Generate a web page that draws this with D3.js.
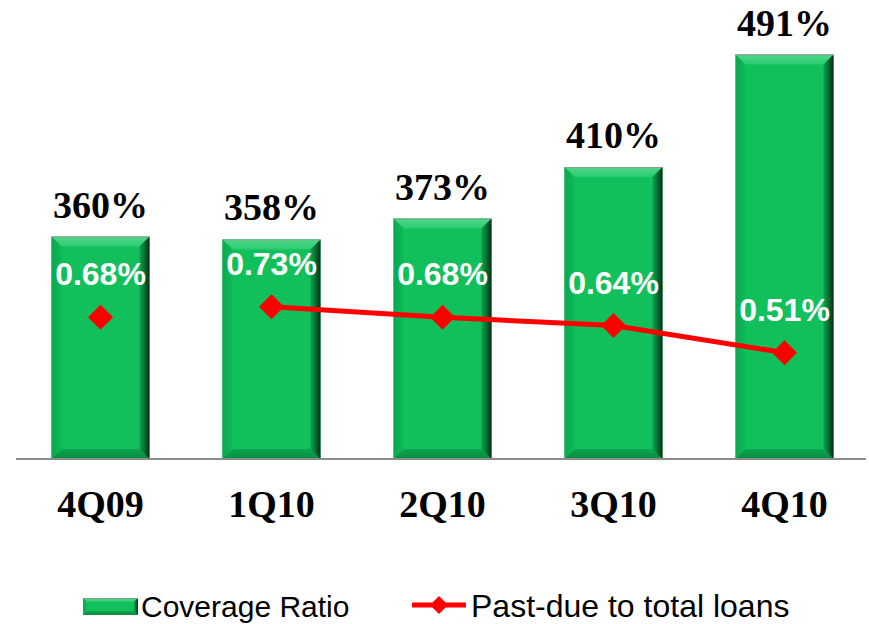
<!DOCTYPE html>
<html>
<head>
<meta charset="utf-8">
<script src="https://cdn.jsdelivr.net/npm/d3@7"></script>
<style>
  html, body { margin: 0; padding: 0; background: #ffffff; }
  svg { display: block; }
</style>
</head>
<body>
<svg id="chart" width="869" height="624"></svg>
<script>
// Quarterly coverage ratio (bars) and past-due ratio (line)
const quarters = ["4Q09", "1Q10", "2Q10", "3Q10", "4Q10"];
const coverageRatio = [360, 358, 373, 410, 491];          // %
const pastDueRatio = [0.68, 0.73, 0.68, 0.64, 0.51];      // %
const joinedToPrevious = [false, false, true, true, true]; // line segment from previous point
const coverageDomain = [200, 500];
const pastDueDomain = [0, 2.0];
const legendLabels = ["Coverage Ratio", "Past-due to total loans"];

const svg = d3.select("#chart");
const SANS = "'Liberation Sans', Arial, Helvetica, sans-serif";
const SERIF = "'Liberation Serif', 'Times New Roman', Times, serif";

const baseY = 459, topY = 42;
const x = d3.scaleBand().domain(quarters).range([15, 870])
  .paddingInner(0.427).paddingOuter(0.2135);
const yBar = d3.scaleLinear().domain(coverageDomain).range([baseY, topY]);
const yLine = d3.scaleLinear().domain(pastDueDomain).range([baseY, topY]);

// gradients for the bevelled bars
const defs = svg.append("defs");
function linGrad(id, x1, y1, x2, y2, stops) {
  const g = defs.append("linearGradient").attr("id", id)
    .attr("x1", x1).attr("y1", y1).attr("x2", x2).attr("y2", y2);
  stops.forEach(s => g.append("stop").attr("offset", s[0]).attr("stop-color", s[1]));
}
linGrad("gTop", 0, 0, 0, 1, [[0, "#4fd98a"], [1, "#2bca72"]]);
linGrad("gRight", 0, 0, 1, 0, [[0, "#0aa24d"], [0.5, "#067033"], [1, "#022a16"]]);
linGrad("gLeft", 0, 0, 1, 0, [[0, "#0aa84f"], [1, "#0eb957"]]);
linGrad("gBottom", 0, 0, 0, 1, [[0, "#0ba54d"], [1, "#088c40"]]);

function bevelBar(g, x0, y0, w, h, b) {
  const x1 = x0 + w, y1 = y0 + h;
  g.append("rect").attr("x", x0).attr("y", y0).attr("width", w).attr("height", h)
    .attr("fill", "#11c05b");
  const poly = (pts, fill) => g.append("polygon")
    .attr("points", pts.map(p => p.join(",")).join(" ")).attr("fill", fill);
  poly([[x0, y0], [x1, y0], [x1 - b, y0 + b], [x0 + b, y0 + b]], "url(#gTop)");
  poly([[x0, y0], [x0 + b, y0 + b], [x0 + b, y1 - b], [x0, y1]], "url(#gLeft)");
  poly([[x0, y1], [x0 + b, y1 - b], [x1 - b, y1 - b], [x1, y1]], "url(#gBottom)");
  poly([[x1, y0], [x1, y1], [x1 - b, y1 - b], [x1 - b, y0 + b]], "url(#gRight)");
  g.append("line").attr("x1", x0).attr("x2", x1).attr("y1", y0 + 0.5).attr("y2", y0 + 0.5)
    .attr("stroke", "#8a9a90").attr("stroke-width", 1);
}

// bars
const barG = svg.append("g");
quarters.forEach((q, i) => {
  const y0 = yBar(coverageRatio[i]);
  bevelBar(barG.append("g"), x(q), y0, x.bandwidth(), baseY - y0, 10);
});

// baseline
svg.append("line").attr("x1", 16).attr("x2", 866).attr("y1", baseY).attr("y2", baseY)
  .attr("stroke", "#8c8c8c").attr("stroke-width", 2);

// coverage labels
svg.append("g").selectAll("text").data(quarters).join("text")
  .attr("x", q => x(q) + x.bandwidth() / 2)
  .attr("y", (q, i) => yBar(coverageRatio[i]) - 19)
  .attr("text-anchor", "middle")
  .style("font-family", SERIF).style("font-weight", "bold").style("font-size", "38px")
  .attr("fill", "#000")
  .text((q, i) => coverageRatio[i] + "%");

// category labels
svg.append("g").selectAll("text").data(quarters).join("text")
  .attr("x", q => x(q) + x.bandwidth() / 2)
  .attr("y", 517)
  .attr("text-anchor", "middle")
  .style("font-family", SERIF).style("font-weight", "bold").style("font-size", "38px")
  .attr("fill", "#000")
  .text(q => q);

// past-due line (only between joined points)
const pts = quarters.map((q, i) => ({ q, v: pastDueRatio[i], j: joinedToPrevious[i] }));
const cx = d => x(d.q) + x.bandwidth() / 2;
const segPts = pts.filter((d, i) => d.j || (pts[i + 1] && pts[i + 1].j));
svg.append("path")
  .attr("d", d3.line().x(cx).y(d => yLine(d.v))(segPts))
  .attr("fill", "none").attr("stroke", "#ff0000").attr("stroke-width", 5)
  .attr("stroke-linejoin", "round");

const diamond = (r) => `M0,${-r}L${r},0L0,${r}L${-r},0Z`;
svg.append("g").selectAll("path").data(pts).join("path")
  .attr("transform", d => `translate(${cx(d)},${yLine(d.v)})`)
  .attr("d", diamond(12.5)).attr("fill", "#ff0000");

// past-due labels
svg.append("g").selectAll("text").data(pts).join("text")
  .attr("x", cx).attr("y", d => yLine(d.v) - 32)
  .attr("text-anchor", "middle")
  .style("font-family", SANS).style("font-weight", "bold").style("font-size", "32px")
  .attr("fill", "#ffffff")
  .text(d => d.v.toFixed(2) + "%");

// legend
const lg = svg.append("g");
bevelBar(lg.append("g"), 83, 598, 55, 17, 4);
lg.append("text").attr("x", 141).attr("y", 617)
  .style("font-family", SANS).style("font-size", "30px").attr("fill", "#000")
  .text(legendLabels[0]);
lg.append("line").attr("x1", 412).attr("x2", 466).attr("y1", 605).attr("y2", 605)
  .attr("stroke", "#ff0000").attr("stroke-width", 5);
lg.append("path").attr("transform", "translate(439,605)").attr("d", diamond(9))
  .attr("fill", "#ff0000");
lg.append("text").attr("x", 471).attr("y", 617)
  .style("font-family", SANS).style("font-size", "32px").attr("fill", "#000")
  .text(legendLabels[1]);
</script>
</body>
</html>
